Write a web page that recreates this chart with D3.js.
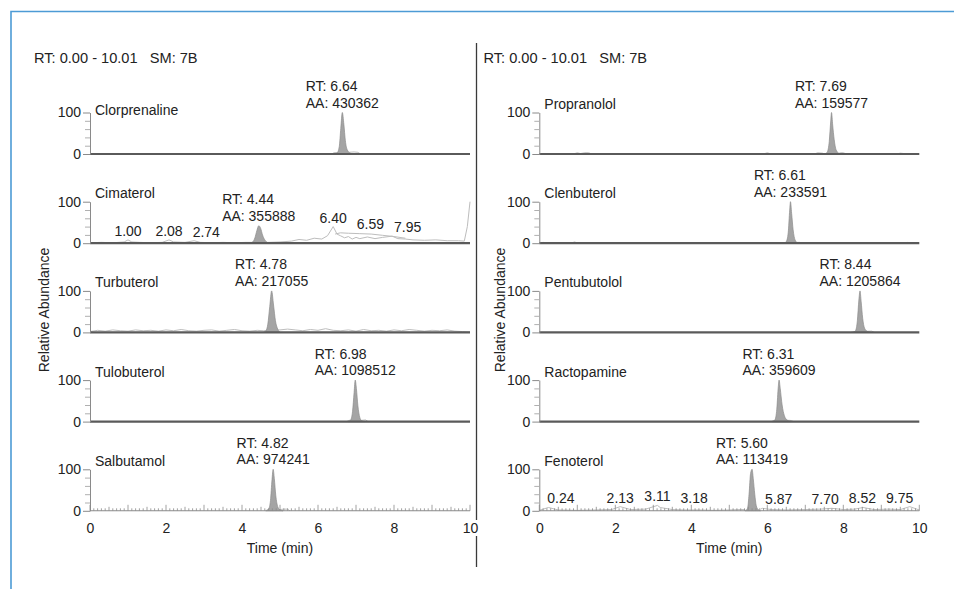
<!DOCTYPE html>
<html><head><meta charset="utf-8">
<script src="https://cdn.jsdelivr.net/npm/d3@7"></script>
<style>
body{margin:0;background:#fff;}
svg{display:block;font-family:"Liberation Sans",Arial,Helvetica,sans-serif;}
</style></head><body>
<svg id="chart" width="954" height="589"></svg>
<script>
// ---------------- DATA ----------------
const headerText = "RT: 0.00 - 10.01   SM: 7B";
const xTickValues = [0, 2, 4, 6, 8, 10];
const yTickValues = [0, 100];
const yMinorTicks = [20, 40, 60, 80];
const xAxisTitle = "Time (min)";
const yAxisTitle = "Relative Abundance";

const leftNames = ["Clorprenaline", "Cimaterol", "Turbuterol", "Tulobuterol", "Salbutamol"];
const leftRT = [6.64, 4.44, 4.78, 6.98, 4.82];
const leftAA = [430362, 355888, 217055, 1098512, 974241];

const rightNames = ["Propranolol", "Clenbuterol", "Pentubutolol", "Ractopamine", "Fenoterol"];
const rightRT = [7.69, 6.61, 8.44, 6.31, 5.60];
const rightAA = [159577, 233591, 1205864, 359609, 113419];

// peak profiles [time (min), relative abundance (%)]
const peakClorprenaline = [[6.42,0],[6.50,2],[6.56,18],[6.60,62],[6.64,100],[6.68,72],[6.72,32],[6.77,10],[6.85,2],[6.95,0]];
const peakCimaterol = [[4.20,0],[4.28,3],[4.34,13],[4.39,30],[4.44,42],[4.49,36],[4.54,20],[4.60,8],[4.66,2],[4.74,0]];
const peakTurbuterol = [[4.56,0],[4.63,4],[4.68,20],[4.73,62],[4.78,100],[4.83,66],[4.88,28],[4.94,8],[5.01,0]];
const peakTulobuterol = [[6.80,0],[6.86,4],[6.91,25],[6.95,70],[6.98,100],[7.01,80],[7.05,38],[7.10,10],[7.15,2],[7.22,0]];
const peakSalbutamol = [[4.64,0],[4.70,4],[4.75,25],[4.79,75],[4.82,100],[4.85,78],[4.89,36],[4.94,10],[5.00,2],[5.08,0]];
const peakPropranolol = [[7.52,0],[7.58,5],[7.63,30],[7.67,80],[7.69,100],[7.72,70],[7.76,35],[7.81,10],[7.88,2],[7.95,0]];
const peakClenbuterol = [[6.44,0],[6.50,4],[6.55,25],[6.59,80],[6.61,100],[6.64,72],[6.68,32],[6.73,8],[6.80,0]];
const peakPentubutolol = [[8.26,0],[8.32,4],[8.37,28],[8.41,78],[8.44,100],[8.47,74],[8.51,34],[8.56,10],[8.64,2],[8.72,0]];
const peakRactopamine = [[6.14,0],[6.20,4],[6.25,30],[6.29,85],[6.31,100],[6.34,80],[6.39,40],[6.45,14],[6.52,4],[6.62,0]];
const peakFenoterol = [[5.42,0],[5.48,6],[5.52,40],[5.56,90],[5.60,100],[5.63,78],[5.67,40],[5.71,12],[5.76,3],[5.82,0]];

// background traces (light grey lines)
const noiseClorprenaline = [[[6.36,0],[6.42,3],[6.55,4],[6.80,4],[6.95,5],[7.05,4],[7.12,0]]];
const noiseCimaterol = [
  [[0,1],[0.3,2],[0.6,1],[0.9,3],[1.00,8],[1.1,3],[1.3,2],[1.6,1],[1.9,2],[2.08,8],[2.2,3],[2.5,2],[2.74,6],[2.9,2],[3.2,1],[3.5,2],[3.8,1],[4.1,2],[4.7,2],[5.0,3],[5.3,5],[5.5,9],[5.7,7],[5.9,12],[6.1,10],[6.25,18],[6.40,40],[6.5,22],[6.59,18],[6.7,13],[6.8,16],[6.9,10],[7.0,14],[7.1,11],[7.3,15],[7.5,11],[7.7,14],[7.95,17],[8.1,11],[8.3,10],[8.5,8],[8.8,7],[9.1,8],[9.4,6],[9.7,6],[9.85,5],[9.93,40],[10.0,100]],
  [[6.45,22],[6.59,25],[6.8,24],[7.1,23],[7.4,22],[7.7,19],[8.0,16],[8.3,12]]
];
const noiseTurbuterol = [[[0,2],[0.2,5],[0.4,3],[0.6,6],[0.8,4],[1.0,3],[1.2,6],[1.4,4],[1.6,5],[1.8,3],[2.0,6],[2.2,4],[2.4,7],[2.6,4],[2.8,3],[3.0,5],[3.2,6],[3.4,3],[3.6,5],[3.8,7],[4.0,4],[4.2,3],[4.4,5],[4.56,4],[5.0,6],[5.2,8],[5.4,6],[5.6,4],[5.8,7],[6.0,5],[6.2,9],[6.4,5],[6.6,4],[6.8,6],[7.0,3],[7.2,7],[7.4,4],[7.6,5],[7.8,3],[8.0,6],[8.2,4],[8.4,7],[8.6,5],[8.8,3],[9.0,5],[9.2,4],[9.4,6],[9.6,3],[9.8,2],[10,1]]];
const noiseTulobuterol = [[[6.75,0],[6.82,3],[7.15,3],[7.25,4],[7.32,0]]];
const noiseSalbutamol = [[[4.62,0],[4.68,3],[5.0,3],[5.10,4],[5.20,4],[5.26,0]]];
const noisePropranolol = [[[0.9,0],[1.0,3],[1.08,1],[1.2,3],[1.3,3],[1.38,0]],[[2.5,0],[2.6,1],[3.3,1],[3.4,0]],[[5.9,0],[6.0,3],[6.1,0]],[[7.25,0],[7.32,3],[7.45,2],[7.52,0]],[[7.85,0],[7.92,3],[8.0,3],[8.08,0]],[[9.4,0],[9.5,2],[9.6,1],[9.7,0]]];
const noiseClenbuterol = [[[0,0],[0.1,2],[0.2,0]],[[0.85,0],[0.92,3],[1.0,1],[1.1,0]],[[6.42,0],[6.75,2],[6.85,2],[6.9,0]],[[9.6,0],[9.68,2],[9.75,0]]];
const noisePentubutolol = [[[8.2,0],[8.28,2],[8.75,3],[8.82,0]]];
const noiseRactopamine = [[[6.1,0],[6.18,3],[6.6,3],[6.7,0]]];
const noiseFenoterol = [
  [[0,1],[0.24,8],[0.5,2],[1.0,1],[1.5,2],[1.9,3],[2.13,10],[2.4,3],[2.8,4],[3.11,13],[3.18,8],[3.5,3],[3.8,2],[4.2,2],[4.6,1],[5.0,2],[5.3,3],[5.42,3]],
  [[5.82,4],[5.87,6],[6.1,3],[6.5,2],[7.0,3],[7.4,4],[7.70,6],[8.0,3],[8.3,4],[8.52,8],[8.8,3],[9.2,4],[9.5,3],[9.75,10],[10,2]]
];

// labelled minor peaks (retention times)
const minorCimaterol = [1.00, 2.08, 2.74, 6.40, 6.59, 7.95];
const minorFenoterol = [0.24, 2.13, 3.11, 3.18, 5.87, 7.70, 8.52, 9.75];

// ---------------- BUILD TABLES ----------------
const peakTable = {
  Clorprenaline: peakClorprenaline, Cimaterol: peakCimaterol, Turbuterol: peakTurbuterol,
  Tulobuterol: peakTulobuterol, Salbutamol: peakSalbutamol, Propranolol: peakPropranolol,
  Clenbuterol: peakClenbuterol, Pentubutolol: peakPentubutolol, Ractopamine: peakRactopamine,
  Fenoterol: peakFenoterol
};
const noiseTable = {
  Clorprenaline: noiseClorprenaline, Cimaterol: noiseCimaterol, Turbuterol: noiseTurbuterol,
  Tulobuterol: noiseTulobuterol, Salbutamol: noiseSalbutamol, Propranolol: noisePropranolol,
  Clenbuterol: noiseClenbuterol, Pentubutolol: noisePentubutolol, Ractopamine: noiseRactopamine,
  Fenoterol: noiseFenoterol
};
const minorTable = { Cimaterol: minorCimaterol, Fenoterol: minorFenoterol };

const sides = [
  { names: leftNames, rt: leftRT, aa: leftAA, x0: 90 },
  { names: rightNames, rt: rightRT, aa: rightAA, x0: 539.3 }
];

// ---------------- LAYOUT ----------------
const svg = d3.select("#chart");
const FONT = 14;
const TEXT = "#222";
const panelW = 380, panelH = 41.5, firstBase = 154, step = 89.2;
const nameDy = { Clorprenaline: 6 };

// frame
svg.append("path").attr("d", "M11,589V11.5H954").attr("fill", "none")
  .attr("stroke", "#4d9bd5").attr("stroke-width", 1.6);

// divider
svg.append("line").attr("x1", 476.5).attr("x2", 476.5).attr("y1", 43).attr("y2", 520)
  .attr("stroke", "#3a3a3a").attr("stroke-width", 1.3);
svg.append("line").attr("x1", 476.5).attr("x2", 476.5).attr("y1", 536).attr("y2", 567)
  .attr("stroke", "#3a3a3a").attr("stroke-width", 1.3);

function interp(series, t) {
  if (t < series[0][0] || t > series[series.length - 1][0]) return 0;
  for (let k = 1; k < series.length; k++) {
    const a = series[k - 1], b = series[k];
    if (t >= a[0] && t <= b[0]) return a[1] + (b[1] - a[1]) * (t - a[0]) / ((b[0] - a[0]) || 1);
  }
  return 0;
}

sides.forEach((side, si) => {
  const x0 = side.x0, x1 = x0 + panelW;
  const xs = d3.scaleLinear().domain([0, 10]).range([x0, x1]);

  // header
  svg.append("text").attr("x", si === 0 ? 34 : 483.5).attr("y", 63)
    .style("white-space", "pre").attr("font-size", 14.6).attr("fill", TEXT).text(headerText);

  // y title
  svg.append("text").attr("transform", `translate(${si === 0 ? 49 : 505},310) rotate(-90)`)
    .attr("text-anchor", "middle").attr("font-size", FONT).attr("fill", TEXT).text(yAxisTitle);

  side.names.forEach((name, i) => {
    const base = firstBase + i * step;
    const ys = d3.scaleLinear().domain([0, 100]).range([base, base - panelH]);
    const g = svg.append("g");
    const isBottom = i === side.names.length - 1;

    // noise lines
    const line = d3.line().x(d => xs(d[0])).y(d => ys(d[1]));
    (noiseTable[name] || []).forEach(s => {
      g.append("path").attr("d", line(s)).attr("fill", "none")
        .attr("stroke", "#bdbdbd").attr("stroke-width", 1);
    });

    // main peak
    const pk = peakTable[name];
    const area = d3.area().x(d => xs(d[0])).y0(ys(0)).y1(d => ys(d[1])).curve(d3.curveMonotoneX);
    g.append("path").attr("d", area(pk)).attr("fill", "#a4a4a4")
      .attr("stroke", "#8d8d8d").attr("stroke-width", 0.7);

    // baseline / x axis
    if (!isBottom) {
      g.append("line").attr("x1", x0).attr("x2", x1).attr("y1", base).attr("y2", base)
        .attr("stroke", "#5a5a5a").attr("stroke-width", 2.2);
    } else {
      const tenth = d3.range(0, 101).map(k => k / 10);
      const ax = g.append("g").attr("transform", `translate(0,${base})`);
      tenth.forEach(t => {
        const k = Math.round(t * 10);
        const len = k % 10 === 0 ? 6 : (k % 5 === 0 ? 4 : 2.5);
        ax.append("line").attr("x1", xs(t)).attr("x2", xs(t)).attr("y1", 0).attr("y2", -len)
          .attr("stroke", "#8a8a8a").attr("stroke-width", 0.8);
      });
      ax.append("line").attr("x1", x0).attr("x2", x1).attr("y1", 0).attr("y2", 0)
        .attr("stroke", "#8a8a8a").attr("stroke-width", 1.1);
      const bx = g.append("g").attr("transform", `translate(0,${base})`)
        .call(d3.axisBottom(xs).tickValues(xTickValues).tickSize(0).tickPadding(12).tickFormat(d3.format("d")));
      bx.select(".domain").remove();
      bx.selectAll("text").attr("font-size", FONT).attr("fill", TEXT)
        .attr("font-family", "Liberation Sans, Arial, sans-serif");
      svg.append("text").attr("x", xs(5)).attr("y", base + 42.6).attr("text-anchor", "middle")
        .attr("font-size", FONT).attr("fill", TEXT).text(xAxisTitle);
    }

    // y axis
    const ya = g.append("g").attr("transform", `translate(${x0},0)`)
      .call(d3.axisLeft(ys).tickValues(yTickValues).tickSize(7).tickSizeOuter(0).tickPadding(2));
    ya.select(".domain").attr("stroke", "#8a8a8a");
    ya.selectAll(".tick line").attr("stroke", "#8a8a8a");
    ya.selectAll("text").attr("font-size", FONT).attr("fill", TEXT)
      .attr("font-family", "Liberation Sans, Arial, sans-serif");
    const ym = g.append("g").attr("transform", `translate(${x0},0)`)
      .call(d3.axisLeft(ys).tickValues(yMinorTicks).tickSize(5).tickSizeOuter(0).tickFormat(""));
    ym.select(".domain").remove();
    ym.selectAll(".tick line").attr("stroke", "#b0b0b0");

    // compound name
    g.append("text").attr("x", x0 + 5).attr("y", base - 45 + (nameDy[name] || 0))
      .attr("font-size", FONT).attr("fill", TEXT).text(name);

    // RT / AA annotation
    const rt = side.rt[i];
    const hMax = d3.max(pk, d => d[1]);
    const px = xs(rt);
    const ann = g.append("g");
    const t1 = ann.append("text").attr("y", ys(hMax) - 21.5).attr("font-size", FONT).attr("fill", TEXT)
      .text("RT: " + d3.format(".2f")(rt));
    const t2 = ann.append("text").attr("y", ys(hMax) - 5).attr("font-size", FONT).attr("fill", TEXT)
      .text("AA: " + side.aa[i]);
    const w = Math.max(t1.node().getComputedTextLength(), t2.node().getComputedTextLength());
    t1.attr("x", px - w / 2); t2.attr("x", px - w / 2);

    // minor peak labels with simple collision resolution
    const minors = minorTable[name];
    if (minors) {
      const series = (noiseTable[name] || []).concat([pk]);
      const gap = 10, lo = x0 + 8, hi = x1 - 6;
      const items = minors.map(t => {
        const h = d3.max(series, s => interp(s, t));
        const el = g.append("text").attr("font-size", FONT).attr("fill", TEXT)
          .attr("y", ys(h) - 4).text(d3.format(".2f")(t));
        const wd = el.node().getComputedTextLength();
        return { el, wd, c: xs(t), left: xs(t) - wd / 2, fixed: false };
      });
      items.push({ fixed: true, c: px, left: px - 3, wd: 6 });
      items.sort((a, b) => a.c - b.c);
      items.forEach(it => { if (!it.fixed) it.left = Math.min(Math.max(it.left, lo), hi - it.wd); });
      for (let k = 1; k < items.length; k++) {
        const p = items[k - 1], c = items[k];
        if (!c.fixed && c.left < p.left + p.wd + gap) c.left = p.left + p.wd + gap;
      }
      for (let k = items.length - 1; k >= 0; k--) {
        const c = items[k];
        if (c.fixed) continue;
        let right = hi;
        if (k < items.length - 1) right = Math.min(right, items[k + 1].left - gap);
        if (c.left + c.wd > right) c.left = right - c.wd;
      }
      items.forEach(it => { if (!it.fixed) it.el.attr("x", it.left); });
    }
  });
});
</script>
</body></html>
